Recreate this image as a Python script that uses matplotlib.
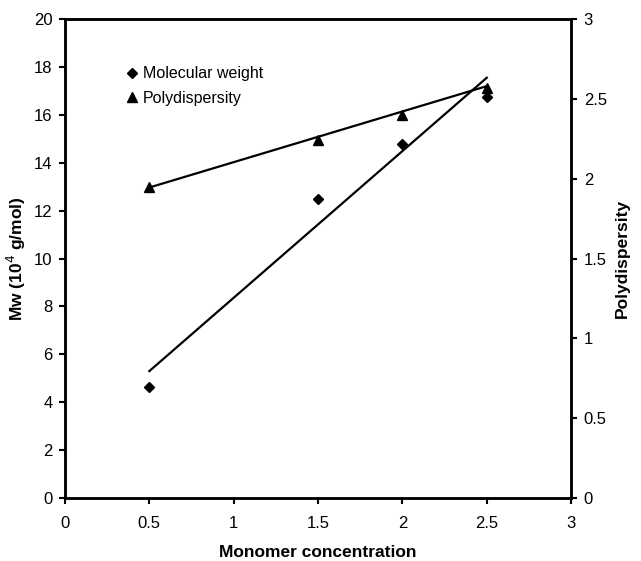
import matplotlib
matplotlib.use('Agg')
import matplotlib.pyplot as plt

plt.rcParams['font.family'] = ['Liberation Sans', 'DejaVu Sans']

# Данные
conc = [0.5, 1.5, 2.0, 2.5]
mw = [4.65, 12.5, 14.8, 16.75]
pdi = [1.945, 2.245, 2.4, 2.57]

# Линии тренда (концы, как на исходном графике)
mw_trend_x = [0.5, 2.5]
mw_trend_y = [5.3, 17.55]
pdi_trend_x = [0.5, 2.5]
pdi_trend_y = [1.945, 2.58]

fig = plt.figure(figsize=(6.41, 5.61), dpi=100)
ax = fig.add_axes([0.1014, 0.1123, 0.7896, 0.8537])
ax2 = ax.twinx()

ax.plot(mw_trend_x, mw_trend_y, color='black', lw=1.6)
ax.plot(conc, mw, linestyle='none', marker='D', ms=5.5, color='black',
        label='Molecular weight')
ax2.plot(pdi_trend_x, pdi_trend_y, color='black', lw=1.6)
ax2.plot(conc, pdi, linestyle='none', marker='^', ms=7, color='black',
        label='Polydispersity')

ax.set_xlim(0, 3)
ax.set_ylim(0, 20)
ax2.set_ylim(0, 3)
ax.set_xticks([0, 0.5, 1, 1.5, 2, 2.5, 3])
ax.set_xticklabels(['0', '0.5', '1', '1.5', '2', '2.5', '3'])
ax.set_yticks(range(0, 21, 2))
ax2.set_yticks([0, 0.5, 1, 1.5, 2, 2.5, 3])
ax2.set_yticklabels(['0', '0.5', '1', '1.5', '2', '2.5', '3'])

for a in (ax, ax2):
    for s in a.spines.values():
        s.set_linewidth(1.8)
    a.tick_params(labelsize=12, width=1.5, length=4, pad=5)
ax.tick_params(axis='x', pad=9)

ax.set_xlabel('Monomer concentration', fontsize=12.5, fontweight='bold', labelpad=10)
ax.set_ylabel('Mw (10$^4$ g/mol)', fontsize=12.5, fontweight='bold', labelpad=4)
ax2.set_ylabel('Polydispersity', fontsize=12.5, fontweight='bold', labelpad=6)

h1, l1 = ax.get_legend_handles_labels()
h2, l2 = ax2.get_legend_handles_labels()
ax.legend(h1 + h2, l1 + l2, loc='upper left', bbox_to_anchor=(0.11, 0.915),
          frameon=False, fontsize=11.5, handlelength=0.6, handletextpad=0.4,
          labelspacing=0.6, borderaxespad=0)

fig.savefig('out.png', dpi=100)
